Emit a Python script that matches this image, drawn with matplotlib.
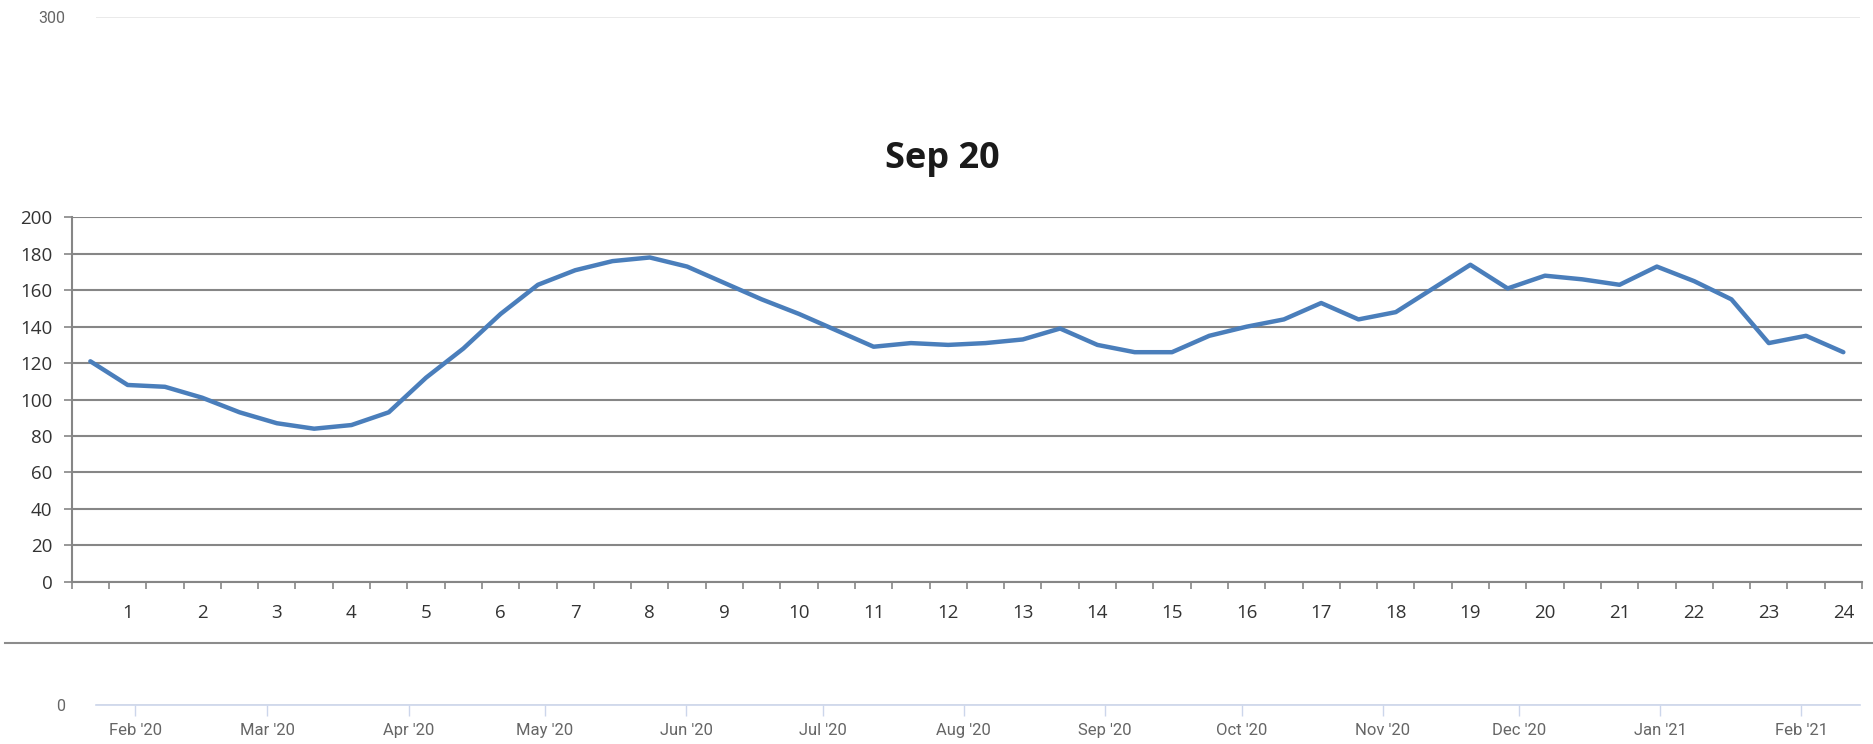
import numpy as np
import matplotlib
matplotlib.use("Agg")
import matplotlib.pyplot as plt
import matplotlib.dates as mdates
from matplotlib.ticker import FixedLocator, FixedFormatter
import datetime as dt

# ---- data ----
week_pos = [i * 0.5 for i in range(1, 49)]
values = [121, 108, 107, 101, 93, 87, 84, 86, 93, 112, 128, 147, 163, 171, 176, 178,
          173, 164, 155, 147, 138, 129, 131, 130, 131, 133, 139, 130, 126, 126, 135, 140,
          144, 153, 144, 148, 161, 174, 161, 168, 166, 163, 173, 165, 155, 131, 135, 126]
x_labels = [str(i) for i in range(1, 25)]
inner_title = "Sep 20"
outer_yticks = [0, 300]
month_ticks = [dt.datetime(2020, m, 1) for m in range(2, 13)] + [dt.datetime(2021, 1, 1), dt.datetime(2021, 2, 1)]
outer_range = (dt.datetime(2020, 1, 23, 8), dt.datetime(2021, 2, 13, 21))

W, H = 1873, 744
fig = plt.figure(figsize=(W / 100, H / 100), dpi=100)
fig.patch.set_facecolor("white")

# ---- outer (Highcharts-like) axes ----
ax_o = fig.add_axes([96 / W, 1 - 704.8 / H, (1860 - 96) / W, (704.8 - 16.7) / H])
ax_o.set_facecolor("none")
ax_o.set_ylim(0, 300)
ax_o.set_xlim(*outer_range)
for s in ["top", "right", "left"]:
    ax_o.spines[s].set_visible(False)
ax_o.spines["bottom"].set_color("#ccd6eb")
ax_o.spines["bottom"].set_linewidth(1.2)
ax_o.set_yticks(outer_yticks)
ax_o.yaxis.grid(True, color="#e6e6e6", linewidth=1.2)
ax_o.tick_params(axis="y", length=0, pad=22, labelsize=11.5, labelcolor="#666666")
ax_o.set_xticks(month_ticks)
ax_o.xaxis.set_major_formatter(mdates.DateFormatter("%b '%y"))
ax_o.tick_params(axis="x", direction="out", length=8, width=1, color="#ccd6eb",
                 pad=5, labelsize=12, labelcolor="#666666")
for lab in ax_o.get_xticklabels() + ax_o.get_yticklabels():
    lab.set_family(["Roboto", "DejaVu Sans"])

# ---- inner (embedded Excel-like) chart ----
ax_i = fig.add_axes([71.7 / W, 1 - 581.7 / H, (1862 - 71.7) / W, (581.7 - 217.4) / H])
ax_i.set_facecolor("none")
ax_i.plot(week_pos, values, color="#4a7ebb", linewidth=3.2, solid_joinstyle="round",
          solid_capstyle="round", zorder=3)
ax_i.set_xlim(0.25, 24.25)
ax_i.set_ylim(0, 200)
ax_i.set_yticks(np.arange(0, 201, 20))
ax_i.yaxis.grid(True, color="#868686", linewidth=1.5)
ax_i.set_axisbelow(True)
for s in ["top", "right"]:
    ax_i.spines[s].set_visible(False)
for s in ["left", "bottom"]:
    ax_i.spines[s].set_color("#868686")
    ax_i.spines[s].set_linewidth(1.5)
ax_i.xaxis.set_major_locator(FixedLocator(list(range(1, 25))))
ax_i.xaxis.set_major_formatter(FixedFormatter(x_labels))
ax_i.xaxis.set_minor_locator(FixedLocator(list(np.arange(0.25, 24.3, 0.5))))
ax_i.tick_params(axis="x", which="major", length=0, pad=16, labelsize=13.5, labelcolor="#333333")
ax_i.tick_params(axis="x", which="minor", direction="out", length=5, width=1.2, color="#868686")
ax_i.tick_params(axis="y", direction="out", length=6, width=1.2, color="#868686",
                 pad=8, labelsize=13.5, labelcolor="#333333")
for lab in ax_i.get_xticklabels() + ax_i.get_yticklabels():
    lab.set_family(["Open Sans", "DejaVu Sans"])

fig.text(942 / W, 1 - 159 / H, inner_title, ha="center", va="center", fontsize=26,
         fontweight="bold", color="#1a1a1a", family=["Open Sans", "DejaVu Sans"])

# separator line (bottom edge of the embedded chart image)
fig.add_artist(plt.Line2D([5 / W, 1.0], [1 - 642.6 / H, 1 - 642.6 / H],
                          transform=fig.transFigure, color="#8c8c8c", linewidth=1.5))

fig.savefig("out.png", dpi=100, facecolor="white")
